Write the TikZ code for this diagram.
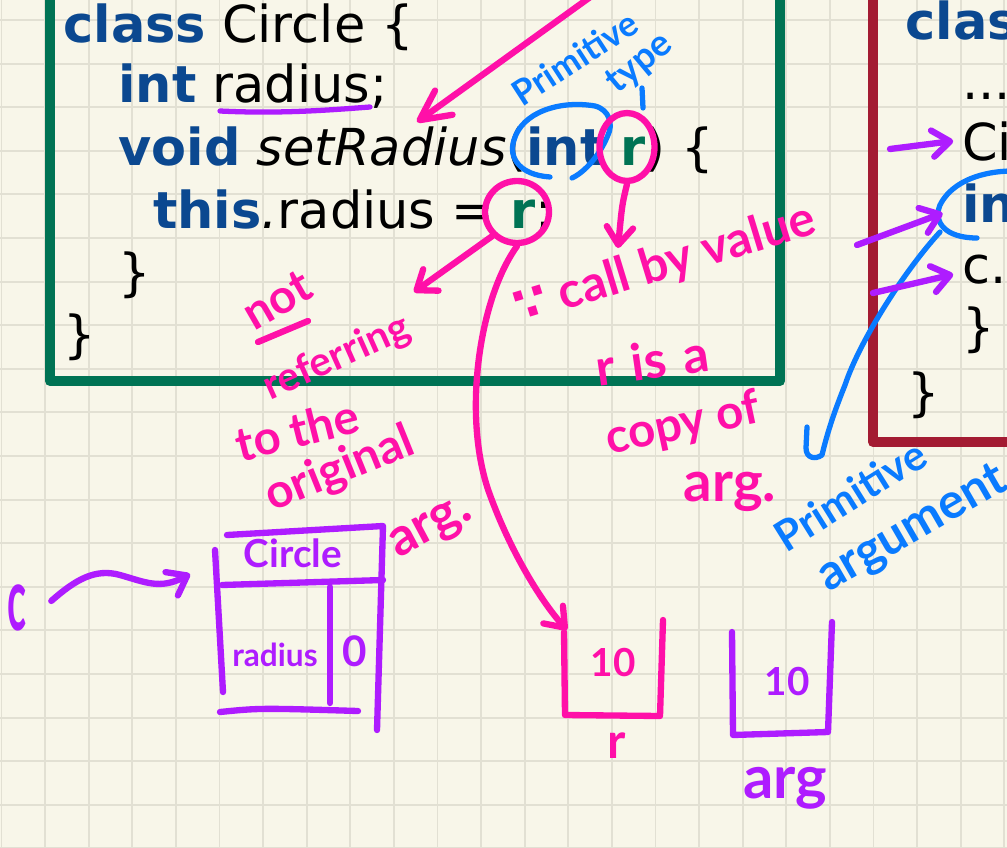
\documentclass[tikz,border=0pt]{standalone}
\usepackage{fontspec}
\usetikzlibrary{arrows.meta, positioning, shapes.geometric}

\newfontfamily\codefont{DejaVu Sans}
\newfontfamily\handfont{Lato}
\newfontfamily\symfont{DejaVu Sans}

\definecolor{paper}{HTML}{F8F6E9}
\definecolor{gridline}{HTML}{E2E0D3}
\definecolor{boxgreen}{HTML}{007354}
\definecolor{boxred}{HTML}{A31B32}
\definecolor{kwblue}{HTML}{0B4890}
\definecolor{inkpink}{HTML}{FF10A8}
\definecolor{inkpurple}{HTML}{AE1CFF}
\definecolor{inkblue}{HTML}{0A7BFF}

\newcommand{\kw}[1]{\textbf{\color{kwblue}#1}}
\newcommand{\prm}[1]{\textbf{\color{boxgreen}#1}}
\newcommand{\handsize}[1]{\handfont\bfseries\fontsize{#1}{#1}\selectfont}

\begin{document}
\begin{tikzpicture}[x=0.02cm, y=-0.02cm,
  code/.style={anchor=base west, inner sep=0pt, font=\codefont\fontsize{29}{35}\selectfont},
  ink/.style={line width=3.6pt, line cap=round, line join=round},
  inkarrow/.style={-{Straight Barb[length=10pt, width=15pt, round]}},
  bigarrow/.style={-{Straight Barb[length=17pt, width=17pt, round]}},
  hand/.style={inner sep=0pt}]

  \useasboundingbox (0,0) rectangle (1007,848);
  \clip (0,0) rectangle (1007,848);
  \fill[paper] (0,0) rectangle (1007,848);

  % squared paper
  \foreach \k in {0,...,23}
    \draw[gridline, line width=1.1pt] ({1.5+43.6*\k},0) -- ++(0,848);
  \foreach \k in {0,...,19}
    \draw[gridline, line width=1.1pt] (0,{20+43.6*\k}) -- ++(1007,0);

  % frames of the two classes
  \draw[boxgreen, line width=5.7pt, line join=round] (50,-20) -- (50,381) -- (780,381) -- (780,-20);
  \draw[boxred, line width=5.7pt, line join=round] (873,-20) -- (873,442) -- (1030,442);

  % class Circle
  \node[code] (ln1) at (63,43) {\kw{class} Circle \{};
  \node[code] (ln2) at (118,103) {\kw{int} radius;};
  \node[code] (ln3) at (118,165) {\kw{void} \textit{setRadius}(\kw{int} \prm{r}) \{};
  \node[code] (ln4) at (153,228) {\kw{this}\textit{.}radius = \prm{r};};
  \node[code] (ln5) at (118,290) {\}};
  \node[code] (ln6) at (63,352) {\}};

  % caller class, cut by the page edge
  \node[code] (rc1) at (905,40) {\kw{clas}};
  \node[code] (rc2) at (962,100) {...};
  \node[code] (rc3) at (962,160) {Ci};
  \node[code] (rc4) at (962,222) {\kw{in}};
  \node[code] (rc5) at (962,283) {c.};
  \node[code] (rc6) at (962,345) {\}};
  \node[code] (rc7) at (907,410) {\}};

  % marks on the code
  \draw[ink, inkpurple, line width=3pt] (220,111) .. controls (280,114) and (330,110) .. (370,107);
  \draw[ink, inkblue, line width=3pt] (550,177) .. controls (520,175) and (508,158) .. (514,140)
    .. controls (522,112) and (560,100) .. (595,106) .. controls (610,110) and (613,125) .. (608,135)
    .. controls (600,155) and (585,172) .. (572,178);
  \node[ellipse, draw=inkpink, line width=3.6pt, minimum width=1.1cm, minimum height=1.36cm, inner sep=0pt] (rpar) at (627,147) {};
  \node[ellipse, draw=inkpink, line width=3.6pt, minimum width=1.28cm, minimum height=1.24cm, inner sep=0pt] (rbody) at (517,212) {};
  \draw[ink, inkblue, line width=3pt] (1010,171) .. controls (975,172) and (950,185) .. (940,205)
    .. controls (933,222) and (945,238) .. (977,238);

  \coordinate (fromtop) at (600,-10);
  \coordinate (fieldtip) at (417,122);
  \draw[ink, inkpink, bigarrow] (fromtop) -- (fieldtip);

  % notes in blue
  \node[hand, font=\handsize{20}, text=inkblue, rotate=33] (ptype1) at (575,58) {Primitive};
  \node[hand, font=\handsize{21}, text=inkblue, rotate=40] (ptype2) at (640,64) {type};
  \draw[ink, inkblue, line width=3pt] (642,88) -- (643,108);

  % notes in pink
  \node[hand, font=\handsize{27}, text=inkpink, rotate=30] (nref1) at (277,300) {not};
  \draw[ink, inkpink] (258,342) -- (308,321);
  \node[hand, font=\handsize{23}, text=inkpink, rotate=24] (nref2) at (337,358) {referring};
  \node[hand, font=\handsize{27}, text=inkpink, rotate=14] (nref3) at (297,430) {to the};
  \node[hand, font=\handsize{27}, text=inkpink, rotate=22] (nref4) at (340,470) {original};
  \node[hand, font=\handsize{30}, text=inkpink, rotate=28] (nref5) at (432,530) {arg.};
  \node[hand, font=\handsize{28}, text=inkpink, rotate=17] (cbv) at (665,265) {{\symfont ∵} call by value};
  \node[hand, font=\handsize{29}, text=inkpink, rotate=8] (cpy1) at (652,360) {r\,\,is\,\,a};
  \node[hand, font=\handsize{27}, text=inkpink, rotate=12] (cpy2) at (683,425) {copy of};
  \node[hand, font=\handsize{32}, text=inkpink] (cpy3) at (730,492) {arg.};

  \coordinate (notpt) at (414,292);
  \coordinate (callpt) at (618,248);
  \draw[ink, inkpink, inkarrow] (rbody.south west) -- (notpt);
  \draw[ink, inkpink, inkarrow] (rpar.south) .. controls (622,205) .. (callpt);

  % primitive argument
  \coordinate (intarg) at (940,232);
  \draw[ink, inkblue, line width=3pt] (intarg) .. controls (905,270) and (860,340) .. (845,385)
    .. controls (835,410) and (828,430) .. (822,455) .. controls (815,460) and (806,458) .. (806,448) -- (807,427);
  \node[hand, font=\handsize{24}, text=inkblue, rotate=32] (parg1) at (850,495) {Primitive};
  \node[hand, font=\handsize{28}, text=inkblue, rotate=30] (parg2) at (913,530) {argument};

  % arrows into the caller
  \coordinate (toc1) at (890,149);
  \coordinate (toc2) at (857,245);
  \coordinate (toc3) at (873,293);
  \draw[ink, inkpurple, inkarrow] (toc1) -- ([xshift=-5pt]rc3.west);
  \draw[ink, inkpurple, inkarrow] (toc2) -- ([shift={(-11pt,-6pt)}]rc4.west);
  \draw[ink, inkpurple, inkarrow] (toc3) -- ([shift={(-5pt,-3pt)}]rc5.west);

  % the Circle object
  \node[hand, font=\handsize{50}, text=inkpurple, xscale=0.45] (cvar) at (17,608) {c};
  \node[hand, font=\handsize{22}, text=inkpurple] (objhead) at (293,553) {Circle};
  \node[hand, font=\handsize{18}, text=inkpurple] (objkey) at (275,655) {radius};
  \node[hand, font=\handsize{24}, text=inkpurple] (objval) at (355,651) {0};
  \draw[ink, inkpurple] (227,535) -- (383,526) -- (377,730);
  \draw[ink, inkpurple] (215,550) -- (223,692);
  \draw[ink, inkpurple] (222,585) -- (383,580);
  \draw[ink, inkpurple] (330,587) -- (330,703);
  \draw[ink, inkpurple] (220,712) .. controls (260,708) .. (358,711);
  \coordinate (objin) at (190,574);
  \draw[ink, inkpurple, inkarrow] ([shift={(14pt,4pt)}]cvar.east) .. controls (75,580) and (95,568) .. (120,575)
    .. controls (145,582) and (160,590) .. (objin);

  % the two int values
  \node[hand, font=\handsize{22}, text=inkpink] (valr) at (613,663) {10};
  \node[hand, font=\handsize{28}, text=inkpink] (namer) at (617,746) {r};
  \draw[ink, inkpink] (564,632) -- (565,715) -- (660,716) -- (663,620);
  \coordinate (valrtop) at (567,630);
  \draw[ink, inkpink, inkarrow] (rbody.south) .. controls (478,300) and (462,420) .. (490,495)
    .. controls (510,550) and (540,600) .. (valrtop);

  \node[hand, font=\handsize{22}, text=inkpurple] (valarg) at (787,682) {10};
  \node[hand, font=\handsize{34}, text=inkpurple] (namearg) at (785,788) {arg};
  \draw[ink, inkpurple] (732,632) -- (733,735) -- (828,732) -- (832,622);
\end{tikzpicture}
\end{document}
